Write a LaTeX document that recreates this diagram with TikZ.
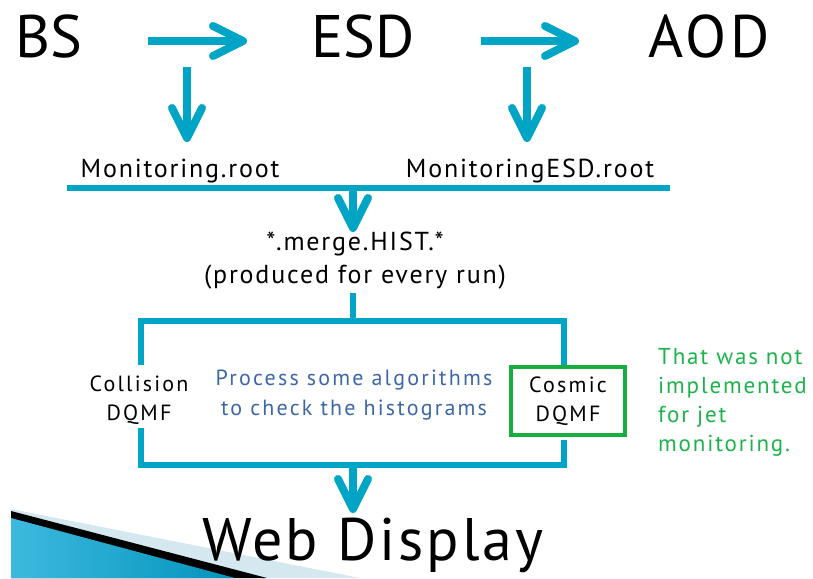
\documentclass[tikz,border=0pt]{standalone}
\usepackage{fontspec}
\setmainfont{PT Sans}
\usetikzlibrary{arrows.meta}
\definecolor{acol}{HTML}{00A5C6}
\definecolor{bluetxt}{HTML}{3D67A9}
\definecolor{greenc}{HTML}{17AD3F}
\definecolor{greent}{HTML}{1DB34C}
\definecolor{lightb}{HTML}{D5E8F0}
\definecolor{wedgeA}{HTML}{3DB9DE}
\definecolor{wedgeB}{HTML}{0393BC}
\begin{document}
\begin{tikzpicture}[x=1pt,y=-1pt,
  arr/.style={draw=acol, line width=8pt, -{Straight Barb[length=30pt,width=30pt,round]}},
  boxl/.style={draw=acol, line width=6.5pt, line join=miter},
  big/.style={font=\fontsize{60}{60}\selectfont, inner sep=0pt, anchor=base},
  mid/.style={font=\fontsize{26}{33}\selectfont\addfontfeatures{LetterSpace=7}, inner sep=0pt, anchor=base},
  sm/.style={font=\fontsize{22}{29.5}\selectfont\addfontfeatures{LetterSpace=10}, inner sep=0pt, align=center},
  gtxt/.style={font=\fontsize{23}{29}\selectfont\addfontfeatures{LetterSpace=8}, inner sep=0pt, align=left, text=greent}]
\useasboundingbox (0,0) rectangle (813,578);
% decoration
\fill[lightb] (11,509) -- (360,578) -- (11,578) -- cycle;
\fill[black] (11,511) -- (267,578) -- (11,578) -- cycle;
\shade[left color=wedgeA, right color=wedgeB] (11,518) -- (235,578) -- (11,578) -- cycle;
% top row
\node[big] (BS) at (49,57) {BS};
\node[big] (ESD) at (363,57) {ESD};
\node[big, font=\fontsize{60}{60}\selectfont\addfontfeatures{LetterSpace=6}] (AOD) at (709,57) {AOD};
\coordinate (a1s) at (148,41); \coordinate (a1e) at (247,41);
\coordinate (a2s) at (481,41); \coordinate (a2e) at (579,41);
\draw[arr] (a1s) -- (a1e);
\draw[arr] (a2s) -- (a2e);
\coordinate (d1s) at (187,67); \coordinate (d1e) at (187,142);
\coordinate (d2s) at (527,67); \coordinate (d2e) at (527,142);
\draw[arr] (d1s) -- (d1e);
\draw[arr] (d2s) -- (d2e);
% files
\node[mid] (mon) at (180,177) {Monitoring.root};
\node[mid] (monesd) at (530,177) {MonitoringESD.root};
\coordinate (hl) at (67,188); \coordinate (hr) at (670,188); \coordinate (hc) at (353,188);
\draw[draw=acol, line width=6pt] (hl) -- (hr);
\coordinate (m1e) at (353,232);
\draw[arr] (hc) -- (m1e);
\node[mid, align=center, anchor=north] (merge) at (355,232) {*.merge.HIST.*\\(produced for every run)};
% box
\coordinate (tl) at (141,321); \coordinate (tr) at (564,321);
\coordinate (bl) at (141,465); \coordinate (br) at (564,465);
\coordinate (tc) at (353,321); \coordinate (bc) at (353,465);
\coordinate (mb) at (353,293);
\draw[boxl] (mb) -- (tc);
\node[sm] (coll) at (139,400) {Collision\\DQMF};
\node[sm, text=bluetxt] (proc) at (354,395) {Process some algorithms\\to check the histograms};
\node[sm, draw=greenc, line width=4pt, minimum width=114pt, minimum height=68pt, text width=108pt] (cosmic) at (568,401) {Cosmic\\DQMF};
\coordinate (lg1) at (141,365); \coordinate (lg2) at (141,428);
\draw[boxl] (lg1) -- (tl) -- (tr) -- (tr |- cosmic.north);
\draw[boxl] (lg2) -- (bl) -- (br) -- ([yshift=-3pt]br |- cosmic.south);
\node[gtxt, anchor=north west] (note) at (658,348) {That was not\\implemented\\for jet\\monitoring.};
% bottom
\coordinate (webtip) at (353,513);
\draw[arr] (bc) -- (webtip);
\node[big, font=\fontsize{60}{60}\selectfont\addfontfeatures{LetterSpace=5}] (web) at (373,560) {Web Display};
\end{tikzpicture}
\end{document}
